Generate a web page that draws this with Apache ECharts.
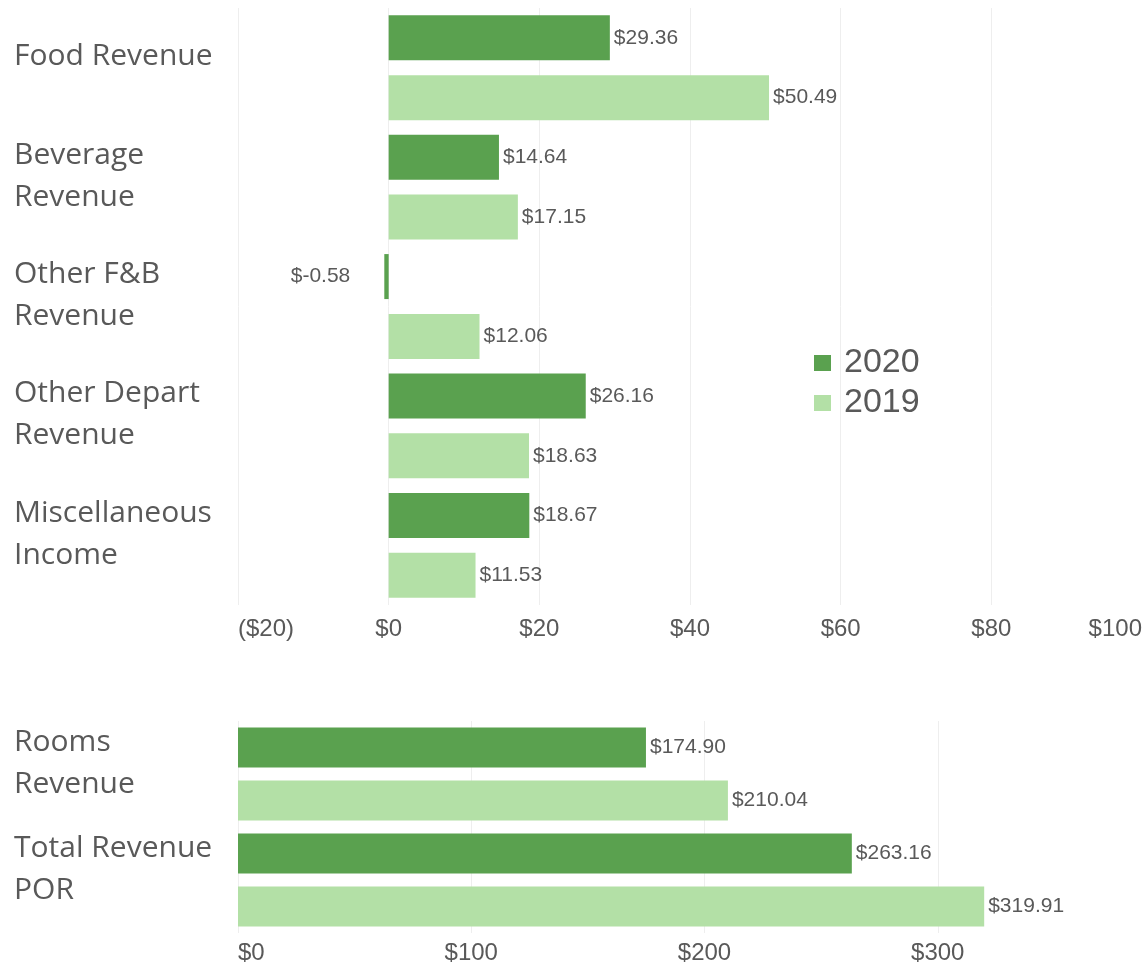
<!DOCTYPE html>
<html>
<head>
<meta charset="utf-8">
<script src="https://cdn.jsdelivr.net/npm/echarts@6/dist/echarts.min.js"></script>
<style>
  html, body { margin: 0; padding: 0; background: #fff; }
  #chart { width: 1142px; height: 967px; }
</style>
</head>
<body>
<div id="chart"></div>
<script>
// upper panel: F&B and other revenue, per occupied room
var deptCategories = ['Food Revenue', 'Beverage Revenue', 'Other F&B Revenue', 'Other Depart Revenue', 'Miscellaneous Income'];
var dept2020 = [29.36, 14.64, -0.58, 26.16, 18.67];
var dept2019 = [50.49, 17.15, 12.06, 18.63, 11.53];
var deptTicks = [-20, 0, 20, 40, 60, 80, 100];

// lower panel: rooms and total
var roomCategories = ['Rooms Revenue', 'Total Revenue POR'];
var room2020 = [174.90, 263.16];
var room2019 = [210.04, 319.91];
var roomTicks = [0, 100, 200, 300, 400];

var DARK = '#5AA14F';
var LIGHT = '#B3E0A6';
var TEXT = '#595959';

var chart = echarts.init(document.getElementById('chart'));

function money(v) {
    return v < 0 ? '($' + (-v) + ')' : '$' + v;
}

function withLabels(arr) {
    // negative bars put their label on the left side
    return arr.map(function (v) {
        if (v < 0) {
            return { value: v, label: { position: 'left', distance: 34 } };
        }
        return v;
    });
}

// category names sit a bit above the bar pairs, so they live on
// their own label-only grids shifted up by 11px
var catLabel = {
    interval: 0,
    margin: 224,
    align: 'left',
    width: 215,
    overflow: 'break',
    fontFamily: 'Open Sans',
    fontSize: 30,
    lineHeight: 42,
    color: TEXT
};

var valLabel = {
    show: true,
    position: 'right',
    distance: 4,
    fontFamily: 'Liberation Sans',
    fontSize: 21,
    color: TEXT,
    formatter: function (p) { return '$' + p.value.toFixed(2); }
};

function hiddenX(gi) {
    return { gridIndex: gi, type: 'value', show: false };
}

var option = {
    animation: false,
    legend: {
        data: ['2020', '2019'],
        orient: 'vertical',
        left: 814,
        top: 343,
        padding: 0,
        itemWidth: 17,
        itemHeight: 16,
        itemGap: 0,
        icon: 'rect',
        textStyle: {
            fontFamily: 'Liberation Sans',
            fontSize: 34,
            lineHeight: 40,
            color: TEXT,
            padding: [0, 0, 0, 8]
        }
    },
    grid: [
        { left: 238, right: 0, top: 8, height: 597, outerBoundsMode: 'none' },
        { left: 238, right: -29, top: 721, height: 212, outerBoundsMode: 'none' },
        { left: 238, right: 0, top: -3, height: 597, outerBoundsMode: 'none' },
        { left: 238, right: -29, top: 710, height: 212, outerBoundsMode: 'none' }
    ],
    xAxis: [
        {
            gridIndex: 0,
            type: 'value',
            min: deptTicks[0],
            max: deptTicks[deptTicks.length - 1],
            interval: 20,
            axisLine: { show: false },
            axisTick: { show: false },
            splitLine: { lineStyle: { color: '#EEEEEE', width: 1 } },
            axisLabel: {
                margin: 12,
                fontFamily: 'Liberation Sans',
                fontSize: 24,
                color: TEXT,
                alignMinLabel: 'left',
                alignMaxLabel: 'right',
                formatter: money
            }
        },
        {
            gridIndex: 1,
            type: 'value',
            min: roomTicks[0],
            max: roomTicks[roomTicks.length - 1],
            interval: 100,
            axisLine: { show: false },
            axisTick: { show: false },
            splitLine: { lineStyle: { color: '#EEEEEE', width: 1 } },
            axisLabel: {
                margin: 8,
                fontFamily: 'Liberation Sans',
                fontSize: 24,
                color: TEXT,
                alignMinLabel: 'left',
                formatter: money
            }
        },
        hiddenX(2),
        hiddenX(3)
    ],
    yAxis: [
        {
            gridIndex: 0, type: 'category', data: deptCategories, inverse: true,
            axisLine: { show: false, onZero: false }, axisTick: { show: false },
            axisLabel: { show: false }
        },
        {
            gridIndex: 1, type: 'category', data: roomCategories, inverse: true,
            axisLine: { show: false, onZero: false }, axisTick: { show: false },
            axisLabel: { show: false }
        },
        {
            gridIndex: 2, type: 'category', data: deptCategories, inverse: true,
            axisLine: { show: false, onZero: false }, axisTick: { show: false },
            splitLine: { show: false },
            axisLabel: catLabel
        },
        {
            gridIndex: 3, type: 'category', data: roomCategories, inverse: true,
            axisLine: { show: false, onZero: false }, axisTick: { show: false },
            splitLine: { show: false },
            axisLabel: catLabel
        }
    ],
    series: [
        {
            name: '2020', type: 'bar', xAxisIndex: 0, yAxisIndex: 0,
            data: withLabels(dept2020), barWidth: 45, barGap: '33%',
            itemStyle: { color: DARK }, label: valLabel
        },
        {
            name: '2019', type: 'bar', xAxisIndex: 0, yAxisIndex: 0,
            data: withLabels(dept2019), barWidth: 45, barGap: '33%',
            itemStyle: { color: LIGHT }, label: valLabel
        },
        {
            name: '2020', type: 'bar', xAxisIndex: 1, yAxisIndex: 1,
            data: room2020, barWidth: 40, barGap: '33%',
            itemStyle: { color: DARK }, label: valLabel
        },
        {
            name: '2019', type: 'bar', xAxisIndex: 1, yAxisIndex: 1,
            data: room2019, barWidth: 40, barGap: '33%',
            itemStyle: { color: LIGHT }, label: valLabel
        }
    ]
};

chart.setOption(option);
</script>
</body>
</html>
